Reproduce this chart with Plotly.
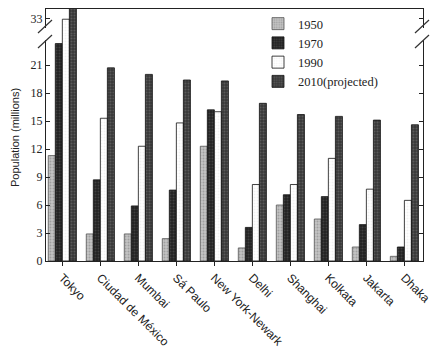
import plotly.graph_objects as go

cities = ["Tokyo", "Ciudad de México", "Mumbai", "Sá Paulo", "New York-Newark",
          "Delhi", "Shanghai", "Kolkata", "Jakarta", "Dhaka"]
years = ["1950", "1970", "1990", "2010(projected)"]
pop_1950 = [11.3, 2.9, 2.9, 2.4, 12.3, 1.4, 6.0, 4.5, 1.5, 0.5]
pop_1970 = [23.3, 8.7, 5.9, 7.6, 16.2, 3.6, 7.1, 6.9, 3.9, 1.5]
pop_1990 = [32.9, 15.3, 12.3, 14.8, 16.0, 8.2, 8.2, 11.0, 7.7, 6.5]
pop_2010 = [34.4, 20.7, 20.0, 19.4, 19.3, 16.9, 15.7, 15.5, 15.1, 14.6]
series = [pop_1950, pop_1970, pop_1990, pop_2010]
lower_ticks = [0, 3, 6, 9, 12, 15, 18, 21]
upper_ticks = [33]

styles = [
    dict(bg="#c4c4c4", fg="#7a7a7a", line="#555555"),
    dict(bg="#222222", fg="#5e5e5e", line="#111111"),
    dict(bg="#ffffff", fg="#e4e4e4", line="#111111"),
    dict(bg="#383838", fg="#7c7c7c", line="#111111"),
]

OFF = 8  # page body margin
W, H = 445 - OFF, 358 - OFF
# plot area in page-image pixels
IL, IR, IT, IB = 46, 423, OFF, 261
L, R, T, B = IL - OFF, W - (IR - OFF), IT - OFF, H - (IB - OFF)
pw, ph = W - L - R, H - T - B
PXU = 9.33  # pixels per million
brk = 34    # image y of axis break
split = (IB - brk) / ph

def px(x, y):
    return (x - IL) / pw, (IB - y) / ph

fig = go.Figure()
for i, (name, vals) in enumerate(zip(years, series)):
    s = styles[i]
    for ya, show in (("y", True), ("y2", False)):
        fig.add_trace(go.Bar(
            x=cities, y=vals, name=name, yaxis=ya, xaxis="x",
            showlegend=show, legendgroup=name,
            marker=dict(color=s["bg"], line=dict(color=s["line"], width=0.8),
                        pattern=dict(shape=".", fgcolor=s["fg"], bgcolor=s["bg"],
                                     size=3, solidity=0.35)),
        ))

serif = "Liberation Serif"
sans = "Liberation Sans"

shapes = []
shapes.append(dict(type="line", xref="paper", yref="paper", x0=0, x1=1, y0=1, y1=1,
                   line=dict(color="#222", width=2)))
for xa in (IL, IR):
    x0, y0 = px(xa, 28)
    x1, y1 = px(xa, 40)
    shapes.append(dict(type="line", xref="paper", yref="paper", x0=x0, x1=x1, y0=y0, y1=y1,
                       line=dict(color="white", width=4)))
    for yc in (26, 41):
        a = px(xa - 8, yc + 7)
        b = px(xa + 6, yc - 6)
        shapes.append(dict(type="line", xref="paper", yref="paper", x0=a[0], y0=a[1],
                           x1=b[0], y1=b[1], line=dict(color="#333", width=1.2)))

tx, ty = px(15, 138)
axis_common = dict(showline=True, linecolor="#222", linewidth=1.2,
                   mirror="ticks", ticks="inside", ticklen=4, tickcolor="#222",
                   showgrid=False, zeroline=False,
                   tickfont=dict(family=serif, size=12, color="#222"), anchor="x")
fig.update_layout(
    width=W, height=H, margin=dict(l=L, r=R, t=T, b=B, autoexpand=False),
    paper_bgcolor="white", plot_bgcolor="white",
    barmode="group", bargap=0.26, bargroupgap=0,
    xaxis=dict(range=[-0.43, 9.49], showline=True, linecolor="#222", linewidth=1.2,
               ticks="outside", ticklen=4, tickcolor="#222", tickangle=45,
               tickfont=dict(family=sans, size=12, color="#222"), anchor="y"),
    yaxis=dict(domain=[0, split], range=[0, (IB - brk) / PXU], tickvals=lower_ticks,
               **axis_common),
    yaxis2=dict(domain=[split, 1], range=[33 - (brk - 18.3) / PXU, 33 + (18.3 - IT) / PXU],
                tickvals=upper_ticks, **axis_common),
    legend=dict(x=px(258, 0)[0], y=px(0, 9)[1], xanchor="left", yanchor="top",
                font=dict(family=serif, size=12.5, color="#222"),
                bgcolor="rgba(0,0,0,0)", tracegroupgap=0, itemwidth=30),
    shapes=shapes,
    annotations=[dict(text="Population (millions)", x=tx, y=ty, xref="paper", yref="paper",
                      xanchor="center", yanchor="middle",
                      textangle=-90, showarrow=False,
                      font=dict(family=sans, size=11, color="#222"))],
)
fig.write_html("out.html")
